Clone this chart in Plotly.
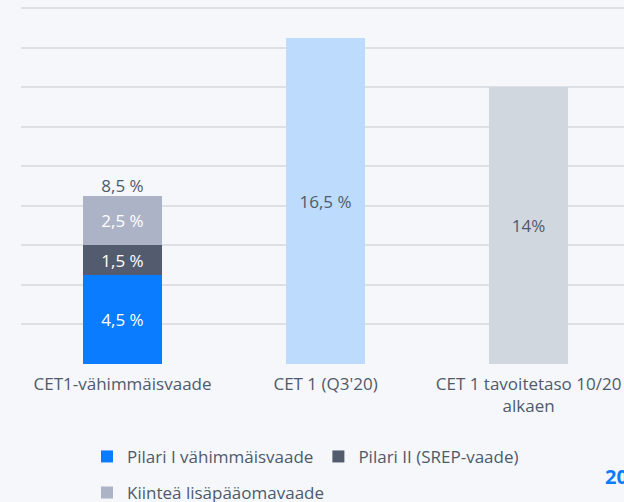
import plotly.graph_objects as go

categories = ["CET1-vähimmäisvaade", "CET 1 (Q3'20)", "CET 1 tavoitetaso 10/20<br>alkaen"]
pilari1 = [4.5, None, None]
pilari2 = [1.5, None, None]
kiintea = [2.5, None, None]
cet_actual = [None, 16.5, 14.0]
pilari1_labels = ["4,5 %", "", ""]
pilari2_labels = ["1,5 %", "", ""]
kiintea_labels = ["2,5 %", "", ""]
actual_labels = ["", "16,5 %", "14%"]
total_values = [8.5]
total_labels = ["8,5 %"]
series_names = ["Pilari I vähimmäisvaade", "Pilari II (SREP-vaade)", "Kiinteä lisäpääomavaade"]

FONT = "Open Sans"
TXT = "#4f5a6b"
BW = 0.385
FS = 17

fig = go.Figure()
fig.add_trace(go.Bar(x=categories, y=pilari1, name=series_names[0], width=BW,
                     marker=dict(color="#0a7cff", line=dict(width=0)),
                     text=pilari1_labels, textposition="inside", insidetextanchor="middle",
                     textfont=dict(color="white", size=FS, family=FONT), legend="legend"))
fig.add_trace(go.Bar(x=categories, y=pilari2, name=series_names[1], width=BW,
                     marker=dict(color="#525c6e", line=dict(width=0)),
                     text=pilari2_labels, textposition="inside", insidetextanchor="middle",
                     textfont=dict(color="white", size=FS, family=FONT), legend="legend"))
fig.add_trace(go.Bar(x=categories, y=kiintea, name=series_names[2], width=BW,
                     marker=dict(color="#adb3c6", line=dict(width=0)),
                     text=kiintea_labels, textposition="inside", insidetextanchor="middle",
                     textfont=dict(color="white", size=FS, family=FONT), legend="legend2"))
fig.add_trace(go.Bar(x=categories, y=cet_actual, width=BW, showlegend=False,
                     marker=dict(color=["#bddcfd", "#bddcfd", "#d1d7df"], line=dict(width=0)),
                     text=actual_labels, textposition="inside", insidetextanchor="middle",
                     textfont=dict(color=TXT, size=FS, family=FONT)))
fig.add_trace(go.Scatter(x=categories[:1], y=total_values, mode="text", text=total_labels,
                         textposition="top center", showlegend=False,
                         textfont=dict(color=TXT, size=FS, family=FONT)))

fig.add_annotation(text="<b>20</b>", xref="paper", yref="paper", x=(603 - 21) / 603,
                   y=(364 - 477) / 360.4, xanchor="left", yanchor="middle", showarrow=False,
                   font=dict(color="#0a7cff", size=20, family=FONT))

fig.update_layout(
    width=624, height=502,
    margin=dict(l=21, r=0, t=4, b=138, autoexpand=False),
    barmode="stack", bargap=0,
    paper_bgcolor="#f5f7fb", plot_bgcolor="#f5f7fb",
    font=dict(family=FONT, color=TXT, size=FS),
    xaxis=dict(range=[-0.5, 2.47], showgrid=False, showline=False, ticks="",
               ticklabelstandoff=8,
               tickfont=dict(size=FS, color=TXT, family=FONT), fixedrange=True),
    yaxis=dict(range=[0, 18.2], dtick=2, showgrid=True, gridcolor="#dde1e6", gridwidth=2,
               zeroline=False, showticklabels=False, fixedrange=True),
    legend=dict(orientation="h", x=(87 - 21) / 603, y=(364 - 457) / 360.4,
                xanchor="left", yanchor="middle", bgcolor="rgba(0,0,0,0)",
                traceorder="normal", font=dict(size=FS, color=TXT, family=FONT)),
    legend2=dict(orientation="h", x=(87 - 21) / 603, y=(364 - 493) / 360.4,
                 xanchor="left", yanchor="middle", bgcolor="rgba(0,0,0,0)",
                 traceorder="normal", font=dict(size=FS, color=TXT, family=FONT)),
)

fig.write_html("out.html", config={"displayModeBar": False},
               post_script="document.body.style.margin='0px';")
